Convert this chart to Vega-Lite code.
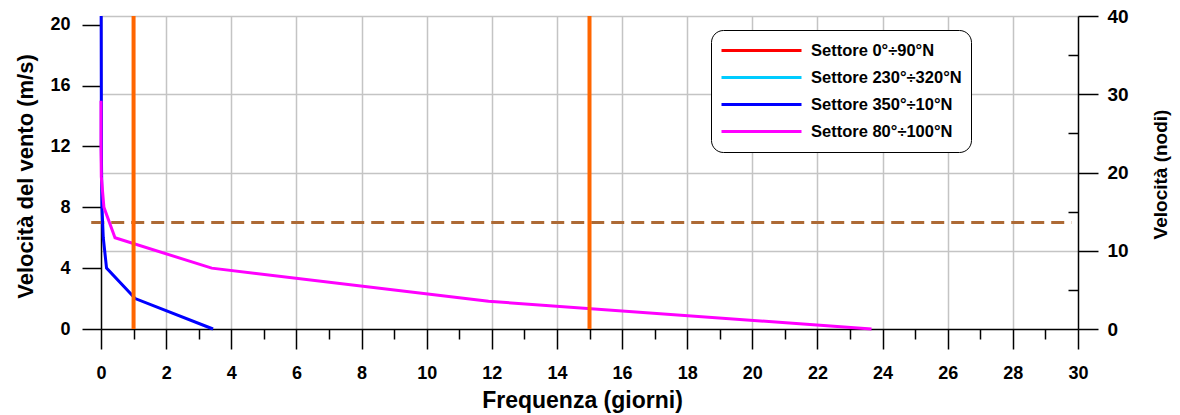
{
  "$schema": "https://vega.github.io/schema/vega-lite/v6.json",
  "width": 977,
  "height": 313,
  "autosize": {"type": "none"},
  "padding": {"left": 101, "top": 16, "right": 102, "bottom": 86},
  "background": "white",
  "config": {
    "view": {"stroke": null},
    "legend": {"strokeWidth": 1},
    "axis": {
      "domainColor": "black",
      "domainWidth": 1.5,
      "tickColor": "black",
      "tickWidth": 1.5,
      "labelColor": "black",
      "labelFontWeight": "bold",
      "labelFlush": false,
      "labelOverlap": false,
      "titleColor": "black",
      "titleFontWeight": "bold",
      "titleFont": "Liberation Sans",
      "gridColor": "#C4C4C4",
      "gridWidth": 1.5
    }
  },
  "datasets": {
    "curves": [
      {"serie": "Settore 350°÷10°N", "freq": 3.44, "vel": 0},
      {"serie": "Settore 350°÷10°N", "freq": 1.05, "vel": 2},
      {"serie": "Settore 350°÷10°N", "freq": 0.17, "vel": 4},
      {"serie": "Settore 350°÷10°N", "freq": 0.07, "vel": 6},
      {"serie": "Settore 350°÷10°N", "freq": 0.03, "vel": 8},
      {"serie": "Settore 350°÷10°N", "freq": 0.02, "vel": 10},
      {"serie": "Settore 350°÷10°N", "freq": 0.01, "vel": 12},
      {"serie": "Settore 350°÷10°N", "freq": 0.01, "vel": 15},
      {"serie": "Settore 350°÷10°N", "freq": 0.005, "vel": 20.576},
      {"serie": "Settore 80°÷100°N", "freq": 23.66, "vel": 0},
      {"serie": "Settore 80°÷100°N", "freq": 11.9, "vel": 1.82},
      {"serie": "Settore 80°÷100°N", "freq": 3.4, "vel": 4},
      {"serie": "Settore 80°÷100°N", "freq": 0.43, "vel": 6},
      {"serie": "Settore 80°÷100°N", "freq": 0.09, "vel": 8},
      {"serie": "Settore 80°÷100°N", "freq": 0.01, "vel": 10},
      {"serie": "Settore 80°÷100°N", "freq": 0, "vel": 12},
      {"serie": "Settore 80°÷100°N", "freq": 0, "vel": 15}
    ],
    "vlines": [{"freq": 1}, {"freq": 15}],
    "soglia": [{"freq": -0.3, "freq2": 29.8, "vel": 7}],
    "nodi": [{"knots": 0}]
  },
  "layer": [
    {
      "encoding": {
        "x": {
          "field": "freq",
          "type": "quantitative",
          "scale": {"domain": [0, 30], "nice": false, "zero": false},
          "axis": {
            "title": "Frequenza (giorni)",
            "values": [0,1,2,3,4,5,6,7,8,9,10,11,12,13,14,15,16,17,18,19,20,21,22,23,24,25,26,27,28,29,30],
            "labelExpr": "datum.value % 2 === 0 ? datum.label : ''",
            "tickSize": {"condition": {"test": "datum.value % 2 === 0", "value": 20}, "value": 10},
            "grid": true,
            "gridOpacity": {"condition": {"test": "datum.value % 2 === 0 && datum.value > 0 && datum.value < 30", "value": 1}, "value": 0},
            "labelFont": "Liberation Sans",
            "labelFontSize": 18,
            "labelPadding": 15,
            "titleFontSize": 23,
            "titleX": 481,
            "titleY": 78,
            "titleAlign": "center",
            "titleBaseline": "alphabetic"
          }
        }
      },
      "layer": [
        {
          "data": {"name": "soglia"},
          "mark": {"type": "rule", "color": "#AD6A35", "strokeWidth": 3, "strokeDash": [13, 7]},
          "encoding": {
            "x2": {"field": "freq2"},
            "y": {
              "field": "vel",
              "type": "quantitative",
              "scale": {"domain": [0, 20.576], "nice": false, "zero": false},
              "axis": {
                "title": "Velocità del vento (m/s)",
                "values": [0,1,2,3,4,5,6,7,8,9,10,11,12,13,14,15,16,17,18,19,20],
                "labelExpr": "datum.value % 4 === 0 ? datum.label : ''",
                "tickSize": {"condition": {"test": "datum.value % 2 === 0", "value": 19}, "value": 9},
                "grid": false,
                "labelFont": "Liberation Sans",
                "labelFontSize": 18,
                "labelPadding": 12,
                "titleFontSize": 22,
                "titleAngle": 270,
                "titleX": -76,
                "titleY": 160,
                "titleAlign": "center",
                "titleBaseline": "middle"
              }
            }
          }
        },
        {
          "data": {"name": "curves"},
          "mark": {"type": "line", "strokeWidth": 3},
          "encoding": {
            "y": {"field": "vel", "type": "quantitative", "title": "Velocità del vento (m/s)"},
            "order": {"field": "vel", "type": "quantitative"},
            "color": {
              "field": "serie",
              "type": "nominal",
              "scale": {
                "domain": ["Settore 0°÷90°N", "Settore 230°÷320°N", "Settore 350°÷10°N", "Settore 80°÷100°N"],
                "range": ["#FF0000", "#00CCFF", "#0000FF", "#FF00FF"]
              },
              "legend": {
                "title": null,
                "orient": "none",
                "legendX": 610,
                "legendY": 14,
                "padding": 9,
                "cornerRadius": 12,
                "strokeColor": "black",
                "fillColor": "white",
                "symbolType": "stroke",
                "symbolSize": 6400,
                "symbolStrokeWidth": 3,
                "clipHeight": 23,
                "rowPadding": 4,
                "labelOffset": 8,
                "labelFont": "Liberation Sans",
                "labelFontSize": 16.5,
                "labelFontWeight": "bold",
                "labelColor": "black",
                "labelLimit": 400
              }
            }
          }
        },
        {
          "data": {"name": "vlines"},
          "mark": {"type": "rule", "color": "#FF6600", "strokeWidth": 4},
          "encoding": {}
        }
      ]
    },
    {
      "data": {"name": "nodi"},
      "mark": {"type": "rule", "opacity": 0},
      "encoding": {
        "y": {
          "field": "knots",
          "type": "quantitative",
          "scale": {"domain": [0, 40], "nice": false, "zero": false},
          "axis": {
            "orient": "right",
            "title": "Velocità (nodi)",
            "values": [0,5,10,15,20,25,30,35,40],
            "labelExpr": "datum.value % 10 === 0 ? datum.label : ''",
            "tickSize": {"condition": {"test": "datum.value % 10 === 0", "value": 20}, "value": -10},
            "grid": true,
            "gridOpacity": {"condition": {"test": "datum.value % 10 === 0 && datum.value > 0", "value": 1}, "value": 0},
            "labelFont": "Liberation Sans",
            "labelFontSize": 19,
            "labelPadding": 9,
            "titleFontSize": 19,
            "titleAngle": 270,
            "titleX": 82,
            "titleY": 158,
            "titleAlign": "center",
            "titleBaseline": "middle"
          }
        }
      }
    }
  ],
  "resolve": {"scale": {"y": "independent"}, "axis": {"y": "independent"}}
}
